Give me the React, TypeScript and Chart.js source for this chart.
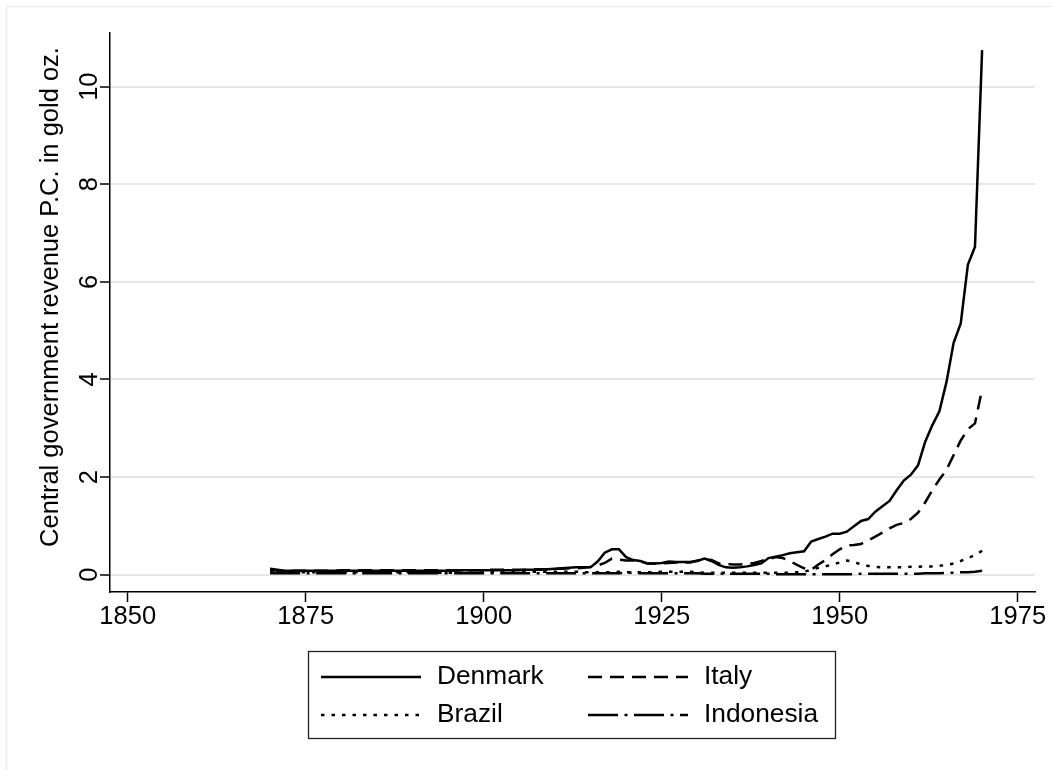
import React, { useEffect, useRef } from "react";
import { Chart, registerables } from "chart.js";

Chart.register(...registerables);

// Years covered by every series
const years: number[] = Array.from({ length: 101 }, (_, i) => 1870 + i);

// Central government revenue per capita, in ounces of gold
const denmark: number[] = [
  0.12, 0.10, 0.08, 0.08, 0.08, 0.08, 0.08, 0.08, 0.08, 0.08,
  0.08, 0.08, 0.08, 0.08, 0.08, 0.08, 0.08, 0.08, 0.08, 0.08,
  0.08, 0.08, 0.08, 0.08, 0.08, 0.08, 0.08, 0.09, 0.09, 0.09,
  0.09, 0.09, 0.09, 0.09, 0.09, 0.09, 0.10, 0.10, 0.10, 0.11,
  0.12, 0.13, 0.14, 0.15, 0.15, 0.15, 0.27, 0.45, 0.52, 0.52,
  0.36, 0.30, 0.28, 0.23, 0.23, 0.24, 0.27, 0.26, 0.26, 0.26,
  0.28, 0.33, 0.28, 0.20, 0.15, 0.14, 0.15, 0.17, 0.20, 0.23,
  0.34, 0.37, 0.40, 0.44, 0.46, 0.48, 0.68, 0.73, 0.78, 0.84,
  0.84, 0.88, 0.99, 1.10, 1.14, 1.29, 1.40, 1.51, 1.73, 1.93,
  2.05, 2.24, 2.72, 3.06, 3.35, 3.95, 4.75, 5.15, 6.35, 6.72,
  10.75,
];

const italy: number[] = [
  0.10, 0.08, 0.08, 0.08, 0.08, 0.08, 0.08, 0.08, 0.08, 0.08,
  0.09, 0.09, 0.09, 0.09, 0.09, 0.09, 0.09, 0.09, 0.09, 0.09,
  0.09, 0.09, 0.09, 0.09, 0.09, 0.09, 0.09, 0.09, 0.09, 0.09,
  0.09, 0.10, 0.10, 0.10, 0.10, 0.10, 0.10, 0.11, 0.11, 0.11,
  0.12, 0.12, 0.13, 0.13, 0.14, 0.16, 0.19, 0.24, 0.33, 0.31,
  0.29, 0.29, 0.27, 0.23, 0.23, 0.23, 0.24, 0.25, 0.25, 0.25,
  0.29, 0.31, 0.30, 0.23, 0.22, 0.21, 0.21, 0.22, 0.24, 0.28,
  0.32, 0.36, 0.34, 0.28, 0.20, 0.13, 0.10, 0.21, 0.30, 0.42,
  0.52, 0.60, 0.61, 0.63, 0.70, 0.78, 0.86, 0.95, 1.02, 1.06,
  1.14, 1.27, 1.48, 1.73, 1.95, 2.15, 2.45, 2.75, 2.98, 3.10,
  3.80,
];

const brazil: number[] = [
  0.05, 0.05, 0.05, 0.05, 0.05, 0.05, 0.05, 0.05, 0.05, 0.05,
  0.05, 0.05, 0.05, 0.05, 0.05, 0.05, 0.05, 0.05, 0.05, 0.05,
  0.05, 0.05, 0.05, 0.04, 0.04, 0.04, 0.04, 0.04, 0.04, 0.04,
  0.05, 0.05, 0.05, 0.05, 0.05, 0.05, 0.05, 0.06, 0.06, 0.06,
  0.06, 0.06, 0.06, 0.06, 0.05, 0.05, 0.05, 0.05, 0.05, 0.06,
  0.05, 0.05, 0.05, 0.05, 0.05, 0.06, 0.06, 0.06, 0.06, 0.06,
  0.05, 0.04, 0.04, 0.04, 0.04, 0.04, 0.04, 0.04, 0.04, 0.04,
  0.04, 0.04, 0.04, 0.04, 0.05, 0.06, 0.10, 0.14, 0.17, 0.21,
  0.25, 0.29, 0.26, 0.21, 0.18, 0.16, 0.15, 0.15, 0.15, 0.15,
  0.16, 0.16, 0.17, 0.17, 0.18, 0.20, 0.23, 0.28, 0.34, 0.40,
  0.49,
];

const indonesia: number[] = [
  0.03, 0.03, 0.03, 0.03, 0.03, 0.03, 0.03, 0.03, 0.03, 0.03,
  0.03, 0.03, 0.03, 0.03, 0.03, 0.03, 0.03, 0.03, 0.03, 0.03,
  0.03, 0.03, 0.03, 0.03, 0.03, 0.03, 0.03, 0.03, 0.03, 0.03,
  0.03, 0.03, 0.03, 0.03, 0.03, 0.03, 0.03, 0.03, 0.03, 0.03,
  0.03, 0.03, 0.03, 0.03, 0.03, 0.03, 0.03, 0.03, 0.03, 0.03,
  0.04, 0.04, 0.03, 0.03, 0.03, 0.03, 0.03, 0.03, 0.03, 0.03,
  0.03, 0.02, 0.02, 0.02, 0.02, 0.02, 0.02, 0.02, 0.02, 0.02,
  0.02, 0.01, 0.01, 0.01, 0.01, 0.01, 0.01, 0.01, 0.01, 0.01,
  0.01, 0.01, 0.01, 0.02, 0.02, 0.02, 0.02, 0.02, 0.02, 0.02,
  0.02, 0.02, 0.03, 0.03, 0.03, 0.04, 0.04, 0.05, 0.05, 0.06,
  0.08,
];

const seriesNames = ["Denmark", "Italy", "Brazil", "Indonesia"];
const xTicks = [1850, 1875, 1900, 1925, 1950, 1975];
const yTicks = [0, 2, 4, 6, 8, 10];
const yTitle = "Central government revenue P.C. in gold oz.";

const FONT = '"Liberation Sans", Arial, Helvetica, sans-serif';
const FONT_SIZE = 25.5;
const LEGEND_FONT_SIZE = 26.3;
const LINE_WIDTH = 2.5;

// Stata-like line patterns: solid, dash, dot, dash-dot
const dashes: number[][] = [[], [14, 8], [3.5, 7], [30, 6.5, 3, 6.5]];

const toPoints = (vals: number[]) => years.map((yr, i) => ({ x: yr, y: vals[i] }));

const decorations = {
  id: "decorations",
  beforeDraw(chart: any) {
    const { ctx, width, height } = chart;
    ctx.save();
    ctx.fillStyle = "#ffffff";
    ctx.fillRect(0, 0, width, height);
    ctx.strokeStyle = "#ececec";
    ctx.lineWidth = 1.5;
    ctx.beginPath();
    ctx.moveTo(6.5, height);
    ctx.lineTo(6.5, 6.5);
    ctx.lineTo(width, 6.5);
    ctx.stroke();
    ctx.restore();
  },
  afterDraw(chart: any) {
    const { ctx } = chart;
    const yScale = chart.scales.y;
    ctx.save();
    ctx.fillStyle = "#000";
    ctx.font = `${FONT_SIZE}px ${FONT}`;
    ctx.textAlign = "center";
    ctx.textBaseline = "alphabetic";

    // rotated y tick labels
    yTicks.forEach((v) => {
      const py = yScale.getPixelForValue(v);
      ctx.save();
      ctx.translate(97, py);
      ctx.rotate(-Math.PI / 2);
      ctx.fillText(String(v), 0, 0);
      ctx.restore();
    });

    // y axis title
    ctx.save();
    ctx.translate(58, 297);
    ctx.rotate(-Math.PI / 2);
    ctx.fillText(yTitle, 0, 0);
    ctx.restore();

    // legend box
    const box = { x: 308.5, y: 651.5, w: 527, h: 87 };
    ctx.strokeStyle = "#222";
    ctx.lineWidth = 1.3;
    ctx.strokeRect(box.x, box.y, box.w, box.h);

    const rows = [677, 715];
    const cols = [
      { x0: 321, x1: 421, tx: 437 },
      { x0: 588, x1: 688, tx: 704 },
    ];
    ctx.font = `${LEGEND_FONT_SIZE}px ${FONT}`;
    ctx.textAlign = "left";
    ctx.textBaseline = "middle";
    chart.data.datasets.forEach((ds: any, i: number) => {
      const row = rows[Math.floor(i / 2)];
      const col = cols[i % 2];
      ctx.save();
      ctx.strokeStyle = "#000";
      ctx.lineWidth = LINE_WIDTH;
      ctx.setLineDash(ds.borderDash || []);
      ctx.beginPath();
      ctx.moveTo(col.x0, row);
      ctx.lineTo(col.x1, row);
      ctx.stroke();
      ctx.restore();
      ctx.fillText(ds.label, col.tx, row);
    });
    ctx.restore();
  },
};

export default function App() {
  const ref = useRef<HTMLCanvasElement>(null);

  useEffect(() => {
    document.body.style.margin = "0";
    const seriesValues = [denmark, italy, brazil, indonesia];
    const chart = new Chart(ref.current as HTMLCanvasElement, {
      type: "line",
      data: {
        datasets: seriesNames.map((name, i) => ({
          label: name,
          data: toPoints(seriesValues[i]),
          borderColor: "#000",
          borderWidth: LINE_WIDTH,
          borderDash: dashes[i],
          pointRadius: 0,
          fill: false,
          tension: 0,
        })),
      },
      options: {
        responsive: false,
        animation: false,
        layout: { padding: { left: 0, top: 33, right: 17, bottom: 138 } },
        plugins: {
          legend: { display: false },
          tooltip: { enabled: false },
        },
        scales: {
          x: {
            type: "linear",
            min: 1847.51,
            max: 1977.43,
            afterBuildTicks: (s: any) => {
              s.ticks = xTicks.map((v) => ({ value: v }));
            },
            afterFit: (s: any) => {
              s.height = 40;
            },
            grid: {
              drawOnChartArea: false,
              drawTicks: true,
              tickLength: 10,
              tickColor: "#000",
              tickWidth: 1.5,
            },
            border: { display: true, color: "#000", width: 1.5 },
            ticks: {
              color: "#000",
              font: { family: FONT, size: FONT_SIZE },
              padding: 0,
              maxRotation: 0,
              autoSkip: false,
              callback: (v: any) => String(v),
            },
          },
          y: {
            type: "linear",
            min: -0.355,
            max: 11.1,
            afterBuildTicks: (s: any) => {
              s.ticks = yTicks.map((v) => ({ value: v }));
            },
            afterFit: (s: any) => {
              s.width = 110;
            },
            grid: {
              color: "#e6e6e6",
              lineWidth: 2,
              drawTicks: true,
              tickLength: 10,
              tickColor: "#000",
              tickWidth: 1.5,
            },
            border: { display: true, color: "#000", width: 1.5 },
            ticks: { display: false },
          },
        },
      },
      plugins: [decorations],
    } as any);
    return () => chart.destroy();
  }, []);

  return (
    <div style={{ width: 1052, height: 770 }}>
      <canvas ref={ref} width={1052} height={770} style={{ display: "block" }} />
    </div>
  );
}
